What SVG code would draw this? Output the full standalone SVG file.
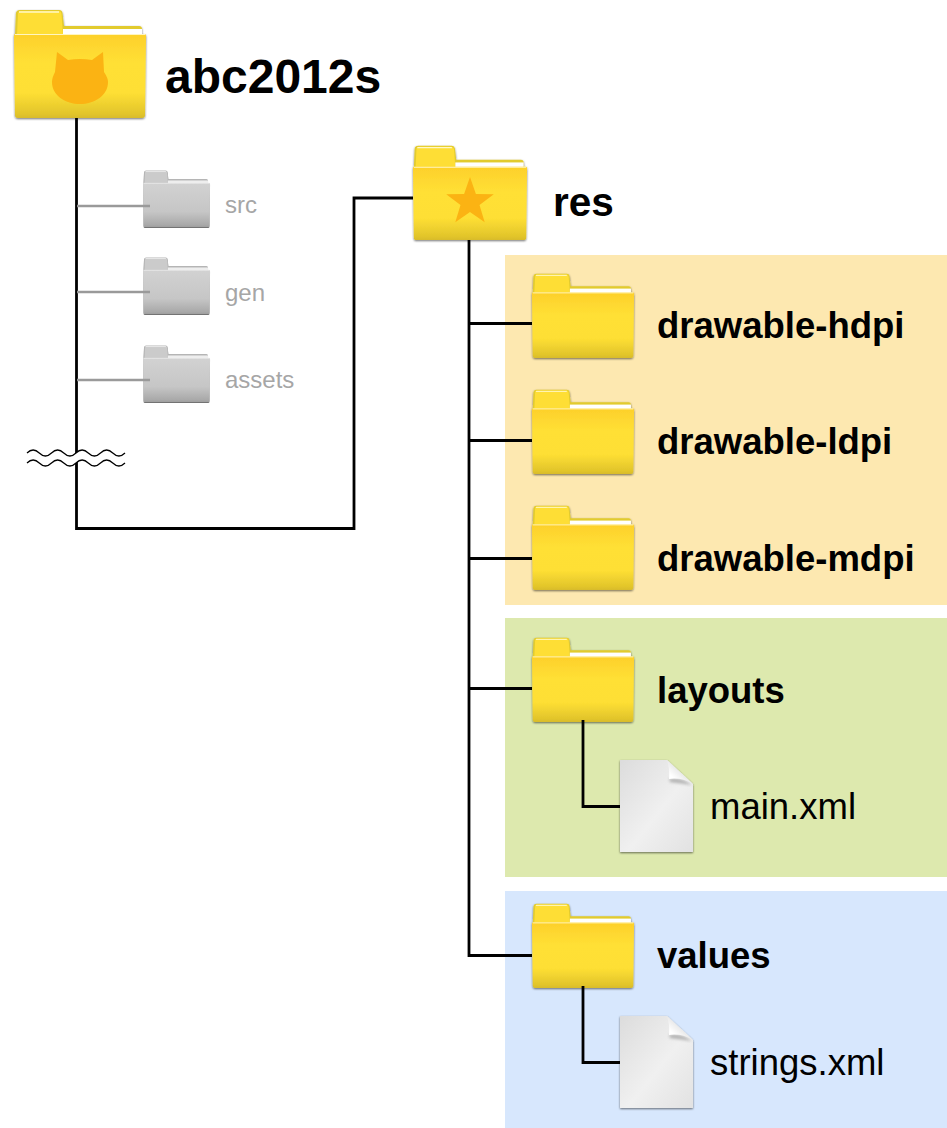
<svg xmlns="http://www.w3.org/2000/svg" width="947" height="1128" viewBox="0 0 947 1128">
<style>
text{font-family:"Liberation Sans",Arial,sans-serif}
.b{font-weight:700;fill:#000}
.f{font-size:36.500px}
.x{font-size:36.500px;fill:#000}
.g{font-size:24px;fill:#a6a6a6}
.c{fill:none;stroke:#000;stroke-width:2.8}
.cg{fill:none;stroke:#9a9a9a;stroke-width:2.6}
.w{fill:none;stroke:#000;stroke-width:1.2}
</style>
<defs>
<linearGradient id="yf" x1="0" y1="0" x2="0" y2="1"><stop offset="0" stop-color="#fdd02b"/><stop offset=".35" stop-color="#ffe035"/><stop offset=".7" stop-color="#fedf34"/><stop offset=".95" stop-color="#e2c52b"/><stop offset="1" stop-color="#d8bb2a"/></linearGradient>
<linearGradient id="gf" x1="0" y1="0" x2="0" y2="1"><stop offset="0" stop-color="#d2d2d2"/><stop offset=".65" stop-color="#c6c6c6"/><stop offset=".95" stop-color="#a9a9a9"/><stop offset="1" stop-color="#9f9f9f"/></linearGradient>
<linearGradient id="pg" x1="0" y1="0" x2="1" y2="1"><stop offset="0" stop-color="#dcdcdc"/><stop offset=".55" stop-color="#f0f0f0"/><stop offset="1" stop-color="#e2e2e2"/></linearGradient>
<linearGradient id="fold" x1="1" y1="0" x2="0" y2="1"><stop offset="0" stop-color="#b4b4b4"/><stop offset=".35" stop-color="#dedede"/><stop offset=".75" stop-color="#ffffff"/></linearGradient>
<filter id="s" x="-10%" y="-10%" width="120%" height="125%"><feGaussianBlur in="SourceAlpha" stdDeviation="1.1"/><feOffset dy="1"/><feComponentTransfer><feFuncA type="linear" slope=".55"/></feComponentTransfer><feMerge><feMergeNode/><feMergeNode in="SourceGraphic"/></feMerge></filter>
<filter id="sb" x="-30%" y="-30%" width="160%" height="160%"><feGaussianBlur stdDeviation="1.500"/></filter>
<g id="folderY">
<path d="M1 26L2 4Q2.500 1 6 1H45Q48 1 48.500 4L50 17H125Q128 17 128 20V30H1Z" fill="#e2cb2e"/>
<path d="M3 26L4 5Q4 2 7 2H45Q47 2 47.500 5L49 26Z" fill="#fede35"/>
<path d="M5 3H45" stroke="#fff8c8" stroke-width="1.300" fill="none"/>
<rect x="49" y="20" width="79" height="6" fill="#fff"/>
<path d="M0 26Q0 25 1.500 25H130.500Q132 25 132 26.500L131 106Q131 109 128 109H4Q1 109 1 106Z" fill="url(#yf)"/>
<path d="M1 25.500H131" stroke="#fff6c0" stroke-width="1.200" fill="none"/>
</g>
<g id="folderG">
<path d="M1 26L2 4Q2.500 1 6 1H45Q48 1 48.500 4L50 17H125Q128 17 128 20V30H1Z" fill="#b5b5b5"/>
<path d="M3 26L4 5Q4 2 7 2H45Q47 2 47.500 5L49 26Z" fill="#cbcbcb"/>
<path d="M5 3H45" stroke="#efefef" stroke-width="1.500" fill="none"/>
<rect x="49" y="20" width="79" height="6" fill="#eee"/>
<path d="M0 26Q0 25 1.500 25H130.500Q132 25 132 26.500L131 106Q131 109 128 109H4Q1 109 1 106Z" fill="url(#gf)"/>
<path d="M1 25.500H131" stroke="#ececec" stroke-width="1.500" fill="none"/>
</g>
<g id="doc">
<path d="M0 0H47L73 24V92H0Z" fill="url(#pg)"/>
<path d="M49 19Q61 17 72 25L50 22Z" fill="#8a8a8a" opacity=".6" filter="url(#sb)"/>
<path d="M47 0L73 24Q61 17 49 19Q50 9 47 0Z" fill="url(#fold)"/>
</g>
<path id="wave" d="M0 0q6.100 -6 12.250 0t12.250 0t12.250 0t12.250 0t12.250 0t12.250 0t12.250 0t12.250 0" class="w"/>
</defs>

<rect x="505" y="255" width="442" height="350" fill="#fde8b0"/>
<rect x="505" y="618" width="442" height="259" fill="#dde9ae"/>
<rect x="505" y="891" width="442" height="237" fill="#d7e7fd"/>

<g id="n-abc2012s">
<use href="#folderY" transform="translate(14 9)" filter="url(#s)"/>
<path d="M57 52L68 60Q80 58 92 60L103 52L104 72Q108 78 108 82C108 96 94 104 80 104C66 104 52 96 52 82Q52 78 55 72Z" fill="#fbb313"/>
<text x="165" y="93" class="b" font-size="48">abc2012s</text>
</g>
<g id="n-src">
<use href="#folderG" transform="translate(143 170) scale(.508 .523)" filter="url(#s)"/>
<text x="225" y="213" class="g">src</text>
</g>
<g id="n-gen">
<use href="#folderG" transform="translate(143 257) scale(.508 .523)" filter="url(#s)"/>
<text x="225" y="300.500" class="g">gen</text>
</g>
<g id="n-assets">
<use href="#folderG" transform="translate(143 345) scale(.508 .523)" filter="url(#s)"/>
<text x="225" y="387.500" class="g">assets</text>
</g>
<g id="n-res">
<use href="#folderY" transform="translate(413 145) scale(.864 .872)" filter="url(#s)"/>
<path d="M470 177L475.900 193.900L493.800 194.300L479.500 205.100L484.700 222.200L470 212L455.300 222.200L460.500 205.100L446.200 194.300L464.100 193.900Z" fill="#fbb313"/>
<text x="553" y="216" class="b" font-size="40.500">res</text>
</g>
<g id="n-hdpi">
<use href="#folderY" transform="translate(532 273) scale(.773 .78)" filter="url(#s)"/>
<text x="657" y="337.500" class="b f">drawable-hdpi</text>
</g>
<g id="n-ldpi">
<use href="#folderY" transform="translate(532 389) scale(.773 .78)" filter="url(#s)"/>
<text x="657" y="453.500" class="b f">drawable-ldpi</text>
</g>
<g id="n-mdpi">
<use href="#folderY" transform="translate(532 505) scale(.773 .78)" filter="url(#s)"/>
<text x="657" y="570.500" class="b f">drawable-mdpi</text>
</g>
<g id="n-layouts">
<use href="#folderY" transform="translate(532 637) scale(.773 .78)" filter="url(#s)"/>
<text x="657" y="702.500" class="b f">layouts</text>
</g>
<g id="n-main">
<use href="#doc" transform="translate(620 760)" filter="url(#s)"/>
<text x="710" y="819" class="x">main.xml</text>
</g>
<g id="n-values">
<use href="#folderY" transform="translate(532 903) scale(.773 .78)" filter="url(#s)"/>
<text x="657" y="967.500" class="b f">values</text>
</g>
<g id="n-strings">
<use href="#doc" transform="translate(620 1016)" filter="url(#s)"/>
<text x="710" y="1075" class="x">strings.xml</text>
</g>

<g id="connectors">
<path class="c" d="M76.500 118V528.500H354V198H413"/>
<path class="cg" d="M77 206H150M77 292H150M77 380H150"/>
<path d="M27 453q6.100 -6 12.250 0t12.250 0t12.250 0t12.250 0t12.250 0t12.250 0t12.250 0t12.250 0V463q-6.100 6 -12.250 0t-12.250 0t-12.250 0t-12.250 0t-12.250 0t-12.250 0t-12.250 0t-12.250 0Z" fill="#fff"/>
<use href="#wave" x="27" y="453"/>
<use href="#wave" x="27" y="463"/>
<path class="c" d="M469 240V955.500H532M469 323.500H532M469 440.500H532M469 558.500H532M469 688.500H532"/>
<path class="c" d="M583 720V806.500H620M583 986V1062.500H620"/>
</g>
</svg>
